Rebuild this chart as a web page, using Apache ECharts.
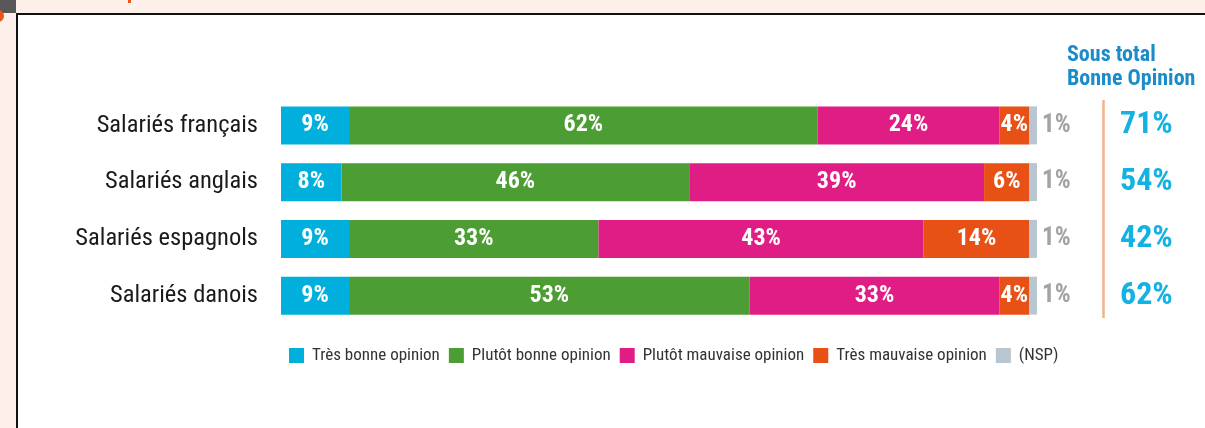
<!DOCTYPE html>
<html>
<head>
<meta charset="utf-8">
<script src="https://cdn.jsdelivr.net/npm/echarts@6/dist/echarts.min.js"></script>
<style>
html,body{margin:0;padding:0;background:#fdf0ea;}
#frame{position:absolute;left:16px;top:13px;width:1189px;height:415px;background:#fff;border-left:2px solid #111;border-top:2px solid #111;box-sizing:border-box;}
#corner{position:absolute;left:0;top:0;width:16px;height:13px;background:#58585a;}
#dot{position:absolute;left:-8px;top:10px;width:12px;height:12px;border-radius:6px;background:#e8561c;}
#tick{position:absolute;left:128px;top:0;width:3px;height:3px;background:#e8561c;}
#chart{position:absolute;left:0;top:0;width:1205px;height:428px;}
</style>
</head>
<body>
<div id="corner"></div><div id="dot"></div><div id="tick"></div>
<div id="frame"></div>
<div id="chart"></div>
<script>
const categories = ['Salariés français','Salariés anglais','Salariés espagnols','Salariés danois'];
const seriesNames = ['Très bonne opinion','Plutôt bonne opinion','Plutôt mauvaise opinion','Très mauvaise opinion','(NSP)'];
const tresBonne = [9, 8, 9, 9];
const plutotBonne = [62, 46, 33, 53];
const plutotMauvaise = [24, 39, 43, 33];
const tresMauvaise = [4, 6, 14, 4];
const nsp = [1, 1, 1, 1];
const sousTotal = [71, 54, 42, 62];
const colors = ['#00afdc','#4c9d33','#e01d84','#e85115','#b8c6d1'];

const FONT = '"Roboto Condensed","DejaVu Sans Condensed",sans-serif';
const chart = echarts.init(document.getElementById('chart'), null, {renderer:'canvas'});
const values = [tresBonne, plutotBonne, plutotMauvaise, tresMauvaise, nsp];
const series = values.map((v, i) => ({
  name: seriesNames[i],
  type: 'bar',
  stack: 'total',
  barWidth: 38,
  data: v,
  itemStyle: {color: colors[i]},
  label: i < 4 ? {
    show: true, position: 'inside', formatter: '{c}%',
    color: '#fff', fontFamily: FONT, fontWeight: 'bold', fontSize: 24
  } : {
    show: true, position: 'right', distance: 5, formatter: '{c}%',
    color: '#a3a3a3', fontFamily: FONT, fontWeight: 'bold', fontSize: 25
  }
}));

chart.setOption({
  backgroundColor: 'transparent',
  animation: false,
  grid: {left: 281, right: 168, top: 97, bottom: 104},
  xAxis: {type: 'value', min: 0, max: 100, show: false},
  yAxis: [{
    type: 'category', data: categories, inverse: true,
    axisLine: {show: false}, axisTick: {show: false},
    axisLabel: {color: '#1a1a1a', fontFamily: FONT, fontSize: 24.5, margin: 23}
  }, {
    type: 'category', data: sousTotal.map(v => v + '%'), inverse: true, position: 'right',
    axisLine: {show: false}, axisTick: {show: false},
    axisLabel: {color: '#13b2e2', fontFamily: FONT, fontWeight: 'bold', fontSize: 32, margin: 83, align: 'left'}
  }],
  legend: {
    data: seriesNames, left: 284, top: 342,
    icon: 'rect', itemWidth: 15, itemHeight: 15, itemGap: 9,
    textStyle: {color: '#333', fontFamily: FONT, fontSize: 17, padding: [0,0,0,3]},
    selectedMode: false
  },
  graphic: [
    {type: 'line', shape: {x1: 1103.5, y1: 100, x2: 1103.5, y2: 318}, style: {stroke: '#f4b08a', lineWidth: 2.5}},
    {type: 'text', left: 1067, top: 43, style: {text: 'Sous total\nBonne Opinion', fill: '#1a8cc9', font: 'bold 22px ' + FONT, align: 'center', lineHeight: 24}}
  ],
  series: series
});
</script>
</body>
</html>
